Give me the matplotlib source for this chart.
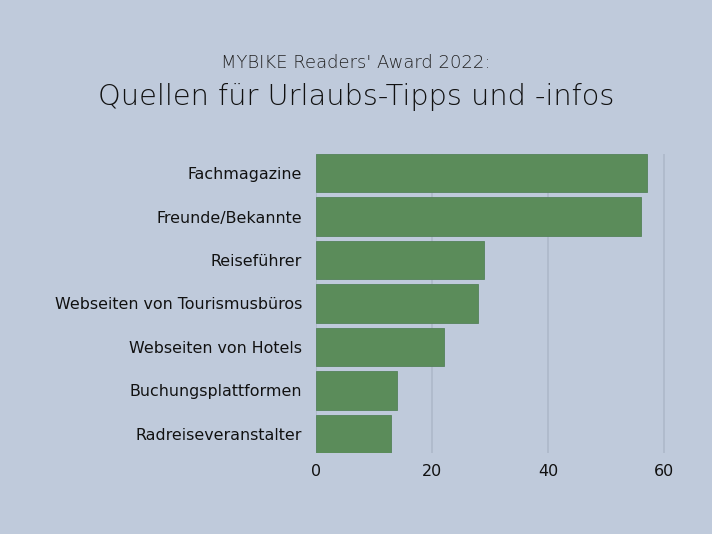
import matplotlib
matplotlib.use("Agg")
import matplotlib.pyplot as plt

# Data
categories = [
    "Fachmagazine",
    "Freunde/Bekannte",
    "Reiseführer",
    "Webseiten von Tourismusbüros",
    "Webseiten von Hotels",
    "Buchungsplattformen",
    "Radreiseveranstalter",
]
values = [57, 56, 29, 28, 22, 14, 13]
x_ticks = [0, 20, 40, 60]

subtitle = "MYBIKE Readers' Award 2022:"
title = "Quellen für Urlaubs-Tipps und -infos"

BG = "#bfcadb"
BAR = "#5b8c5a"
GRID = "#adb9ca"

plt.rcParams["font.family"] = ["DejaVu Sans"]

fig = plt.figure(figsize=(7.12, 5.34), dpi=100, facecolor=BG)
ax = fig.add_axes([0.4438, 0.1517, 0.505, 0.5599])
ax.set_facecolor(BG)

h = 0.88
ypos = list(range(len(categories)))
ax.barh(ypos, values, height=h, color=BAR, edgecolor="#55825a",
        linewidth=0.6, zorder=3)
ax.set_ylim(len(categories) - 1 + h / 2, -h / 2)
ax.set_xlim(0, 62)

ax.set_yticks(ypos)
ax.set_yticklabels(categories, fontsize=11.4, color="#111111")
ax.set_xticks(x_ticks)
ax.set_xticklabels([str(t) for t in x_ticks], fontsize=11.5, color="#111111")
ax.tick_params(axis="y", length=0, pad=10)
ax.tick_params(axis="x", length=0, pad=8)

ax.grid(axis="x", color=GRID, linewidth=1.2, zorder=0)
for s in ax.spines.values():
    s.set_visible(False)

fig.text(0.5, 0.882, subtitle, ha="center", va="center", fontsize=13,
         color="#222222", fontweight=200)
fig.text(0.5, 0.818, title, ha="center", va="center", fontsize=20.8,
         color="#111111", fontweight=200)

fig.savefig("out.png", dpi=100, facecolor=BG)
